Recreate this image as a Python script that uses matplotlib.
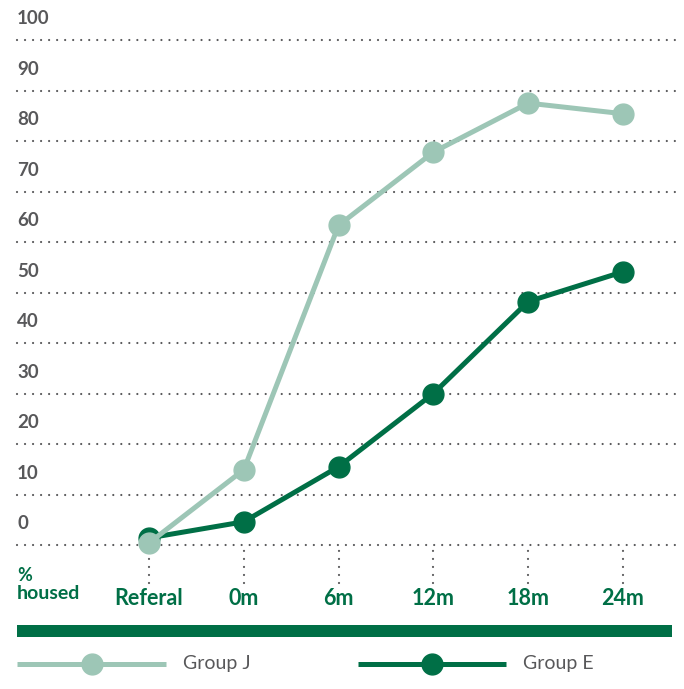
import matplotlib
matplotlib.use("Agg")
import matplotlib.pyplot as plt
from matplotlib.lines import Line2D
from matplotlib.patches import Rectangle

# data
categories = ["Referal", "0m", "6m", "12m", "18m", "24m"]
group_j = [0.4, 14.9, 63.3, 77.8, 87.5, 85.4]
group_e = [1.4, 4.6, 15.5, 30.0, 48.2, 54.1]
y_ticks = [0, 10, 20, 30, 40, 50, 60, 70, 80, 90, 100]

LIGHT = "#9dc6b6"
DARK = "#006f46"
GREY = "#58585a"
FONT = ["Lato", "DejaVu Sans"]

W, H = 684, 689
DOTS = (0, (0.01, 3.6))


def main():
    plt.rcParams["font.family"] = FONT
    fig = plt.figure(figsize=(W / 100, H / 100), dpi=100)

    # main plot area: 0 at y=545px, 100 at y=40px; x from 17px to 675px
    left, right = 17 / W, 675 / W
    bottom, top = 1 - 545 / H, 1 - 40 / H
    ax = fig.add_axes([left, bottom, right - left, top - bottom])
    xs = list(range(len(categories)))
    # category 0 at 149px, 5 at 623px
    px0, px5 = 149, 623
    step = (px5 - px0) / 5
    ax.set_xlim(-(px0 - 17) / step, 5 + (675 - px5) / step)
    ax.set_ylim(0, 100)
    ax.axis("off")
    x_left = ax.get_xlim()[0]

    for v in y_ticks:
        ax.axhline(v, color=GREY, lw=1.6, ls=DOTS,
                   dash_capstyle="round", clip_on=False, zorder=1)
        ax.text(x_left, v + 4.2, str(v), color=GREY, fontsize=13.5,
                fontweight="bold", ha="left", va="center")

    for x in xs:
        ax.plot([x, x], [-7.6, 0], color=GREY, lw=1.6, ls=DOTS,
                dash_capstyle="round", clip_on=False, zorder=1)
    for x, lab in zip(xs, categories):
        ax.text(x, -10.6, lab, color=DARK, fontsize=15.5, fontweight="bold",
                ha="center", va="center")

    ax.text(x_left, -6.1, "%", color=DARK, fontsize=13,
            fontweight="bold", ha="left", va="center")
    ax.text(x_left, -9.6, "housed", color=DARK, fontsize=14,
            fontweight="bold", ha="left", va="center")

    ax.plot(xs, group_e, color=DARK, lw=3.6, marker="o", ms=15,
            clip_on=False, zorder=3)
    ax.plot(xs, group_j, color=LIGHT, lw=3.6, marker="o", ms=15,
            clip_on=False, zorder=4)

    # overlay in pixel coordinates for the bar and the legend
    ov = fig.add_axes([0, 0, 1, 1])
    ov.set_xlim(0, W)
    ov.set_ylim(H, 0)
    ov.axis("off")
    ov.add_patch(Rectangle((17, 625), 655, 12, color=DARK, lw=0))

    for (x0, x1, c, lab) in [(17, 166, LIGHT, "Group J"),
                             (358, 506, DARK, "Group E")]:
        ov.add_line(Line2D([x0, x1], [664, 664], color=c, lw=3.6,
                           solid_capstyle="butt"))
        ov.plot([(x0 + x1) / 2], [664], marker="o", ms=15, color=c)
        ov.text(x1 + 17, 663, lab, color=GREY, fontsize=14,
                ha="left", va="center")

    fig.savefig("out.png", dpi=100)
    plt.close()


if __name__ == "__main__":
    main()
